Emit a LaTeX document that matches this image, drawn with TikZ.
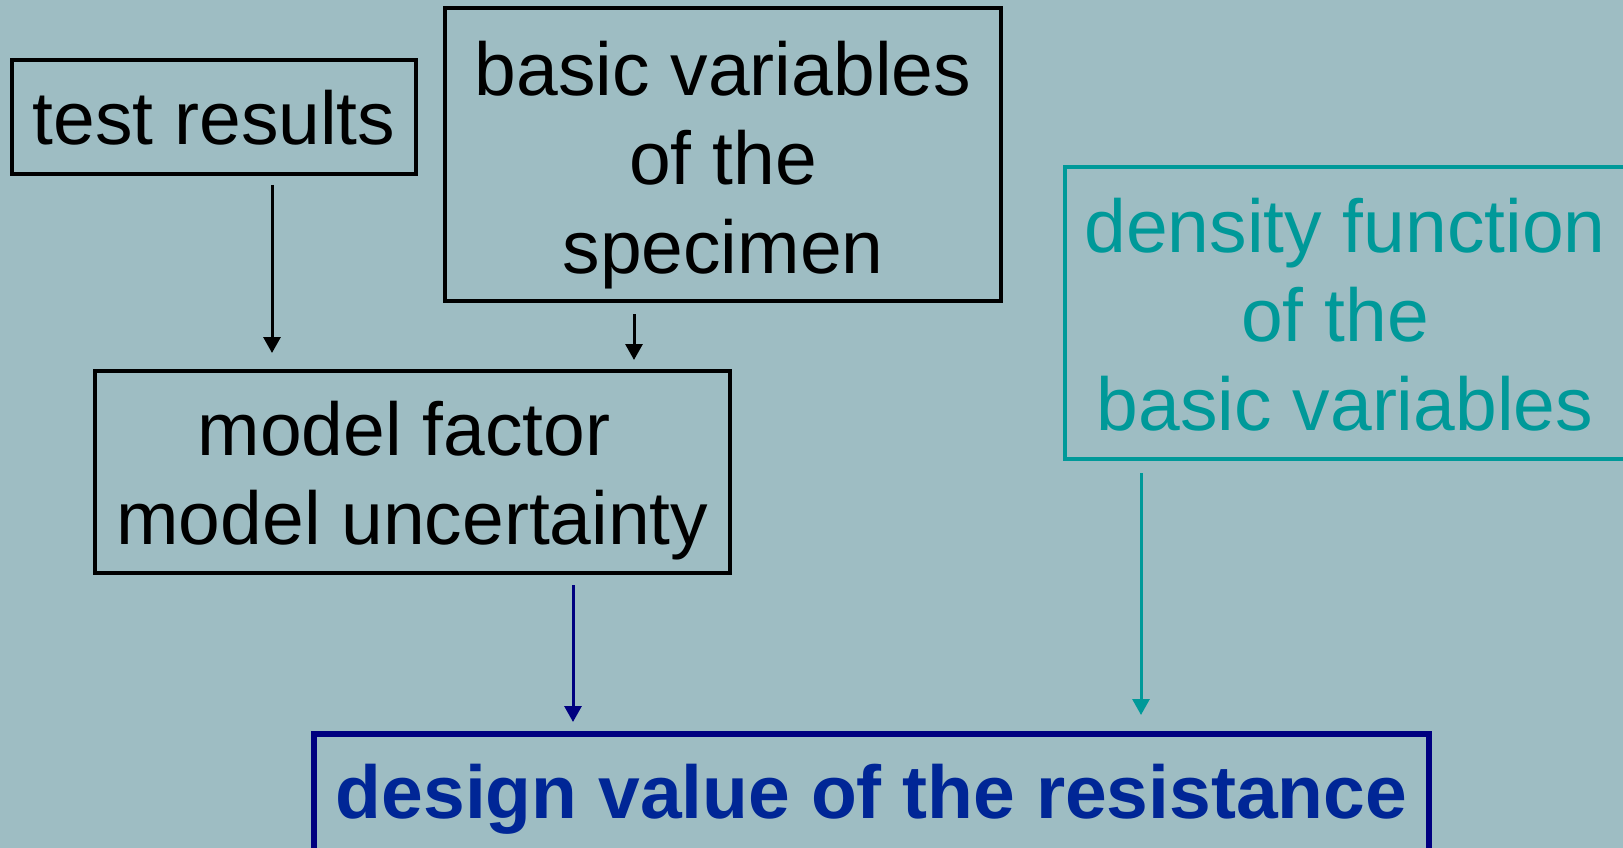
\documentclass[tikz,border=0pt]{standalone}
\usepackage{fontspec}
\setmainfont{Liberation Sans}
\usetikzlibrary{arrows.meta,calc}
\definecolor{bgc}{RGB}{158,189,195}
\definecolor{tealc}{RGB}{0,153,153}
\definecolor{navyc}{RGB}{0,0,128}
\definecolor{navytext}{RGB}{0,38,150}
\newcommand{\myup}[1]{\rule{0pt}{#1pt}}
\newcommand{\mydn}[1]{\rule[-#1pt]{0pt}{#1pt}}
\begin{document}
\begin{tikzpicture}[x=1pt,y=-1pt,
  box/.style={draw, line width=4pt, align=center, inner sep=0pt,
    font=\fontsize{75}{89}\selectfont},
  arr/.style={line width=3pt, -{Triangle[length=16pt,width=17pt]}}]
\useasboundingbox (0,0) rectangle (1623,848);
\clip (0,0) rectangle (1623,848);
\fill[bgc] (0,0) rectangle (1623,848);

\node[box, minimum width=404pt, minimum height=114pt] (tr) at (214,117)
  {\myup{70}test results\mydn{14}};
\node[box, minimum width=556pt, minimum height=293pt] (bv) at (723,154.5)
  {\myup{80}basic variables\\of the\\specimen\mydn{21}};
\node[box, minimum width=635pt, minimum height=202pt] (mf) at (412.5,472)
  {\myup{80}model factor\hspace*{17pt}\mbox{}\\model uncertainty\mydn{25}};
\node[box, draw=tealc, text=tealc, minimum width=560pt, minimum height=292pt] (df) at (1345,313)
  {\myup{80}density function\\of the\hspace*{20pt}\mbox{}\\basic variables\mydn{24}};
\node[box, draw=navyc, line width=6pt, text=navytext, minimum width=1115pt, minimum height=166pt,
  font=\fontsize{75}{89}\selectfont\bfseries] (dv) at (871.5,817)
  {\myup{70}design value of the resistance\mydn{68}};

\coordinate (x1) at (272,0);
\coordinate (x2) at (634,0);
\coordinate (x3) at (573,0);
\coordinate (x4) at (1141,0);

\draw[arr, shorten <=9pt, shorten >=16pt] (tr.south -| x1) -- (mf.north -| x1);
\draw[arr, shorten <=11pt, shorten >=9pt] (bv.south -| x2) -- (mf.north -| x2);
\draw[arr, navyc, shorten <=10pt, shorten >=9pt] (mf.south -| x3) -- (dv.north -| x3);
\draw[arr, tealc, shorten <=12pt, shorten >=16pt] (df.south -| x4) -- (dv.north -| x4);
\end{tikzpicture}
\end{document}
